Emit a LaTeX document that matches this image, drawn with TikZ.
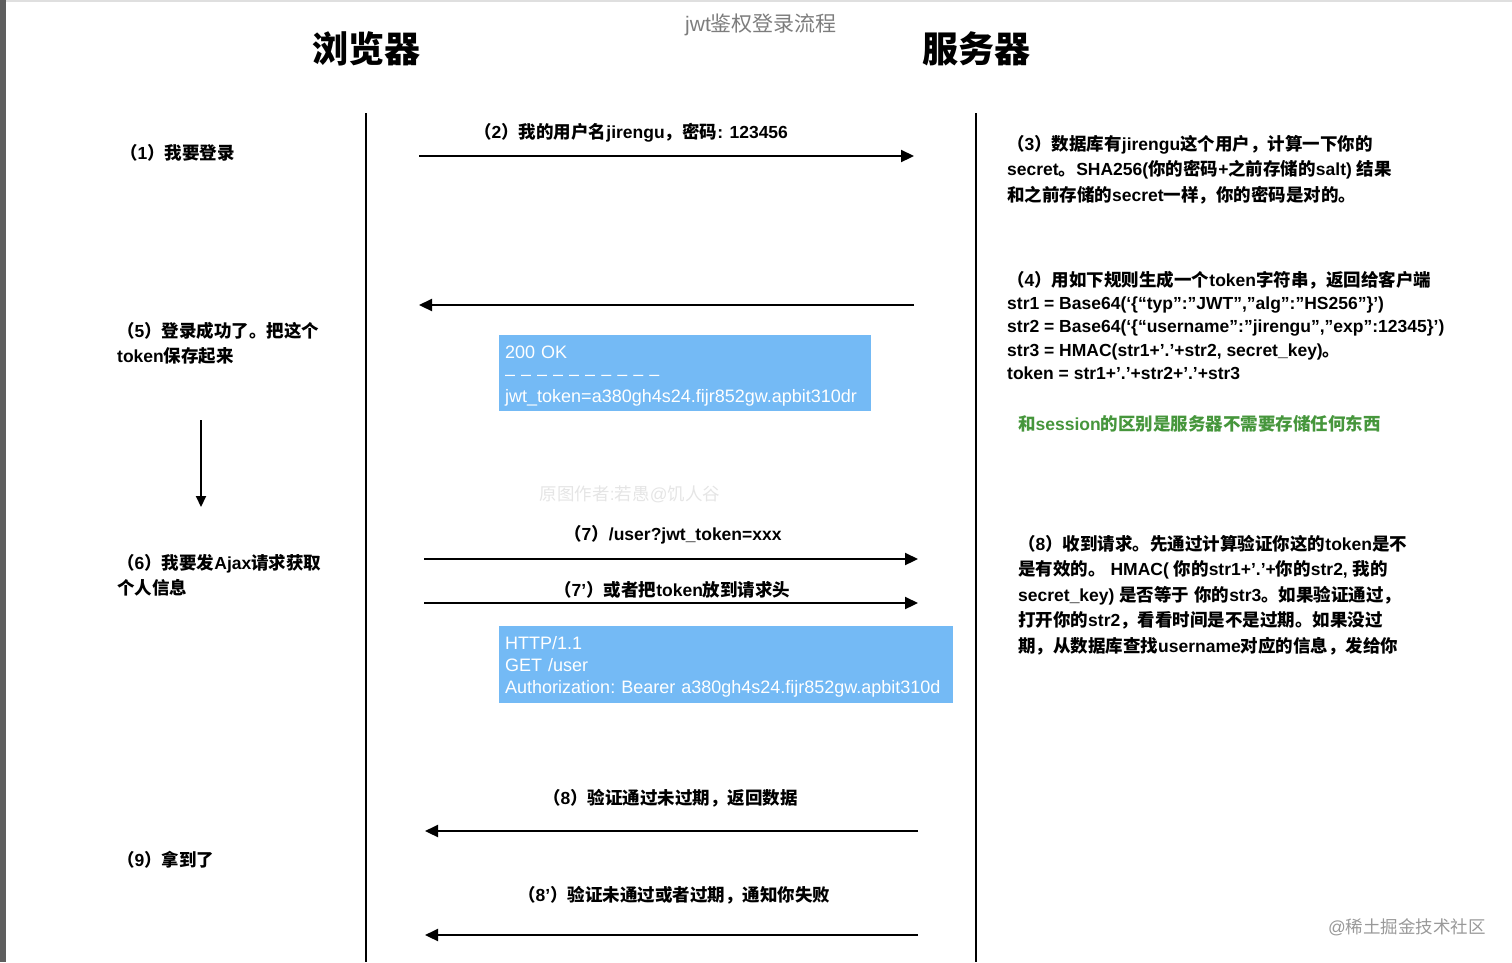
\documentclass[tikz,border=0pt]{standalone}
\usepackage{fontspec}
\setmainfont{Liberation Sans}
\newfontfamily\zhfont{Noto Sans CJK SC}
\usetikzlibrary{arrows.meta}

% Chinese characters and full-width punctuation go to the CJK font
\XeTeXinterchartokenstate=1
\newXeTeXintercharclass\zhclass
\newcount\zhcode
\newcommand\zhrange[2]{%
  \zhcode=#1
  \loop
    \XeTeXcharclass\zhcode=\zhclass
  \ifnum\zhcode<#2 \advance\zhcode by 1 \repeat}
\zhrange{"3000}{"303F}
\zhrange{"4E00}{"9FFF}
\zhrange{"FF00}{"FFEF}
\XeTeXinterchartoks 0 \zhclass={\zhfont}
\XeTeXinterchartoks 4095 \zhclass={\zhfont}
\XeTeXinterchartoks \zhclass 0={\rmfamily}
\XeTeXinterchartoks \zhclass 4095={\rmfamily}

\definecolor{tokenblue}{RGB}{116,186,245}
\definecolor{notegreen}{RGB}{70,150,60}
\definecolor{titlegray}{RGB}{125,125,125}
\definecolor{bargray}{RGB}{94,94,94}

\begin{document}
\begin{tikzpicture}[x=1pt, y=-1pt,
  every node/.style={inner sep=0pt},
  actor/.style={font=\fontsize{36}{40}\selectfont\bfseries, anchor=base},
  % multi-line notes: the base anchor sits on the last line
  note/.style={font=\fontsize{17.5}{25.5}\selectfont\bfseries\frenchspacing, align=left, anchor=base west},
  msglabel/.style={font=\fontsize{17.5}{21}\selectfont\bfseries, anchor=base west},
  lifeline/.style={line width=2pt},
  msg/.style={line width=2.2pt, -{Triangle[length=13pt, width=12pt]}},
  tokenbox/.style={fill=tokenblue, text=white, font=\fontsize{18}{22}\selectfont\frenchspacing,
    align=left, inner xsep=6pt, anchor=north west}
]
\useasboundingbox (0,0) rectangle (1512,962);
\fill[bargray] (0,0) rectangle (6,962);
\fill[gray!25] (6,0) rectangle (1512,2);

% headings
\node[font=\fontsize{21}{24}\selectfont, text=titlegray, anchor=base] (title) at (761,31) {jwt鉴权登录流程};
\node[actor] (browser) at (366,62) {浏览器};
\node[actor] (server) at (976,62) {服务器};

% lifelines
\coordinate (b-top) at (366,113);
\coordinate (b-end) at (366,962);
\coordinate (s-top) at (976,113);
\coordinate (s-end) at (976,962);
\draw[lifeline] (b-top) -- (b-end);
\draw[lifeline] (s-top) -- (s-end);

% browser side
\node[note] (n1) at (120,159) {（1）我要登录};
\node[note] (n5) at (117,362.5) {（5）登录成功了。把这个\\token保存起来};
\node[note] (n6) at (117,594.5) {（6）我要发Ajax请求获取\\个人信息};
\node[note] (n9) at (117,866) {（9）拿到了};
\coordinate (d-top) at (201,420);
\coordinate (d-end) at (201,507);
\draw[line width=2pt, -{Triangle[length=11pt, width=10pt]}] (d-top) -- (d-end);

% server side
\node[note] (n3) at (1007,201) {（3）数据库有jirengu这个用户，计算一下你的\\secret。SHA256(你的密码+之前存储的salt) 结果\\和之前存储的secret一样，你的密码是对的。};
\node[note, font=\fontsize{17.5}{23.3}\selectfont\bfseries\frenchspacing] (n4) at (1007,379.5) {（4）用如下规则生成一个token字符串，返回给客户端\\str1 = Base64(‘\{“typ”:”JWT”,”alg”:”HS256”\}’)\\str2 = Base64(‘\{“username”:”jirengu”,”exp”:12345\}’)\\str3 = HMAC(str1+’.’+str2, secret\_key)。\\token = str1+’.’+str2+’.’+str3};
\node[note, text=notegreen] (diff) at (1018,430) {和session的区别是服务器不需要存储任何东西};
\node[note] (n8) at (1018,652) {（8）收到请求。先通过计算验证你这的token是不\\是有效的。 HMAC( 你的str1+’.’+你的str2, 我的\\secret\_key) 是否等于 你的str3。如果验证通过，\\打开你的str2，看看时间是不是过期。如果没过\\期，从数据库查找username对应的信息，发给你};

% messages
\coordinate (m2-b) at (419,156);
\coordinate (m2-s) at (914,156);
\draw[msg] (m2-b) -- (m2-s);
\node[msglabel] (l2) at (474,138) {（2）我的用户名jirengu，密码: 123456};

\coordinate (m4-s) at (914,305);
\coordinate (m4-b) at (419,305);
\draw[msg] (m4-s) -- (m4-b);
\node[tokenbox, text width=360pt, minimum height=76pt] (jwtok) at (499,335)
  {\rule{0pt}{2pt}\\[-6pt]200 OK\\{\spaceskip=6pt – – – – – – – – – –}\\jwt\_token=a380gh4s24.fijr852gw.apbit310dr};

\node[font=\fontsize{17.5}{20}\selectfont, text=black!10, anchor=base] (credit) at (630,500) {原图作者:若愚@饥人谷};

\coordinate (m7-b) at (424,559);
\coordinate (m7-s) at (918,559);
\draw[msg] (m7-b) -- (m7-s);
\node[msglabel] (l7) at (564,540) {（7）/user?jwt\_token=xxx};

\coordinate (m7p-b) at (424,603);
\coordinate (m7p-s) at (918,603);
\draw[msg] (m7p-b) -- (m7p-s);
\node[msglabel] (l7p) at (554,596) {（7'）或者把token放到请求头};
\node[tokenbox, text width=442pt, minimum height=77pt] (bearer) at (499,626)
  {\rule{0pt}{2pt}\\[-6pt]HTTP/1.1\\GET /user\\Authorization: Bearer a380gh4s24.fijr852gw.apbit310d};

\coordinate (m8-s) at (918,831);
\coordinate (m8-b) at (425,831);
\draw[msg] (m8-s) -- (m8-b);
\node[msglabel] (l8) at (543,804) {（8）验证通过未过期，返回数据};

\coordinate (m8p-s) at (918,935);
\coordinate (m8p-b) at (425,935);
\draw[msg] (m8p-s) -- (m8p-b);
\node[msglabel] (l8p) at (518,901) {（8'）验证未通过或者过期，通知你失败};

\node[font=\fontsize{17.5}{20}\selectfont, text=black!40, anchor=base] (site) at (1407,933) {@稀土掘金技术社区};
\end{tikzpicture}
\end{document}
